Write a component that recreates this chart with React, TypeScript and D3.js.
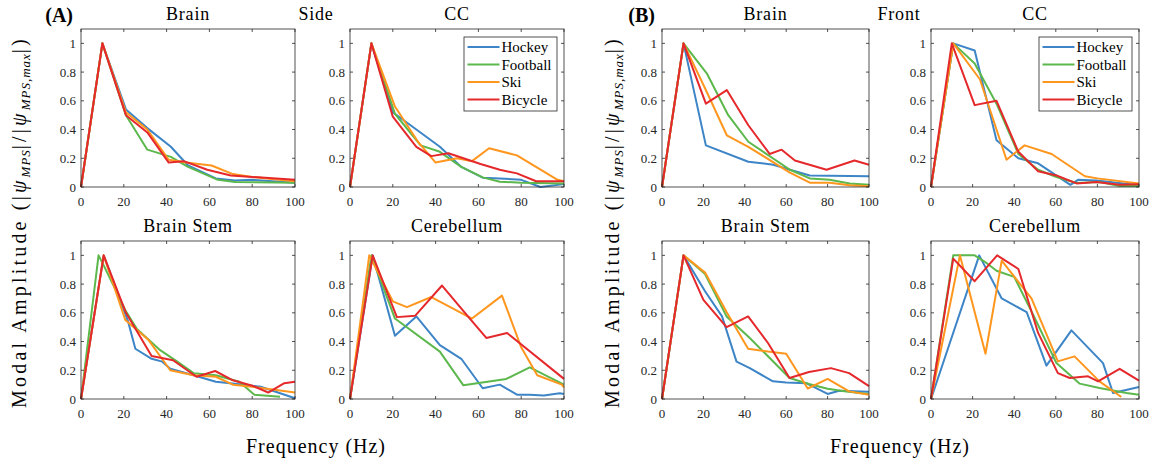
import React from 'react';
import * as d3 from 'd3';

const FONT = '"Liberation Serif", "DejaVu Serif", serif';
const INK = '#262626';

const sports = ['Hockey', 'Football', 'Ski', 'Bicycle'];
const colors = ['#3d85c6', '#5cb84c', '#ff961e', '#e5282b'];
const xTicks = [0, 20, 40, 60, 80, 100];
const yTicks = [0, 0.2, 0.4, 0.6, 0.8, 1];
const yTickLabels = ['0', '0.2', '0.4', '0.6', '0.8', '1'];

// (A) Side impacts: [frequency Hz, normalised amplitude]
const sideBrainHockey = [[0, 0], [10, 1], [21, 0.54], [31, 0.41], [42, 0.28], [50, 0.15], [63, 0.06], [72, 0.045], [80, 0.05], [100, 0.03]];
const sideBrainFootball = [[0, 0], [10, 1], [21, 0.5], [31, 0.26], [42, 0.21], [50, 0.14], [64, 0.05], [72, 0.035], [100, 0.03]];
const sideBrainSki = [[0, 0], [10, 1], [21, 0.52], [31, 0.4], [41, 0.19], [49, 0.17], [61, 0.15], [71, 0.09], [80, 0.07], [100, 0.04]];
const sideBrainBicycle = [[0, 0], [10, 1], [21, 0.5], [31, 0.38], [41, 0.17], [48, 0.18], [59, 0.12], [70, 0.08], [80, 0.07], [100, 0.05]];

const sideCCHockey = [[0, 0], [10, 1], [20, 0.52], [31, 0.4], [42, 0.28], [52, 0.14], [62, 0.065], [70, 0.06], [80, 0.05], [89, 0], [100, 0.02]];
const sideCCFootball = [[0, 0], [10, 1], [21, 0.51], [33, 0.29], [42, 0.245], [52, 0.14], [62, 0.067], [70, 0.037], [80, 0.03], [100, 0.025]];
const sideCCSki = [[0, 0], [10, 1], [21, 0.56], [32, 0.31], [40, 0.17], [50, 0.2], [57, 0.18], [65, 0.27], [78, 0.22], [97, 0.05], [100, 0.04]];
const sideCCBicycle = [[0, 0], [10, 1], [20, 0.49], [31, 0.28], [38, 0.215], [46, 0.235], [53, 0.2], [61, 0.16], [70, 0.12], [78, 0.095], [87, 0.04], [100, 0.04]];

const sideStemHockey = [[0, 0], [10.6, 1], [22, 0.54], [25.4, 0.35], [33, 0.28], [38, 0.26], [41.7, 0.21], [52.6, 0.165], [63, 0.12], [73, 0.105], [84, 0.085], [100, 0.005]];
const sideStemFootball = [[0, 0], [8.2, 1], [10.6, 0.93], [21, 0.61], [26, 0.49], [37, 0.34], [45, 0.26], [52.6, 0.18], [63, 0.165], [74, 0.12], [81, 0.03], [93, 0.015]];
const sideStemSki = [[0, 0], [10.6, 1], [20.7, 0.55], [31.6, 0.41], [41.7, 0.2], [52.6, 0.165], [63, 0.155], [71, 0.1], [80, 0.085], [100, 0.045]];
const sideStemBicycle = [[0, 0], [10.6, 1], [21, 0.6], [33, 0.3], [43, 0.27], [54, 0.155], [62.7, 0.195], [71, 0.13], [80.5, 0.09], [87.5, 0.045], [95, 0.11], [100, 0.12]];

const sideCereHockey = [[0, 0], [10.6, 1], [21, 0.44], [31, 0.575], [42, 0.375], [52, 0.28], [62, 0.075], [70, 0.1], [78, 0.03], [84, 0.03], [90.6, 0.025], [98, 0.04], [100, 0.035]];
const sideCereFootball = [[0, 0], [10, 1], [21, 0.56], [42, 0.33], [53, 0.095], [73, 0.14], [84, 0.22], [100, 0.1]];
const sideCereSki = [[0, 0], [9, 1], [20, 0.68], [26.6, 0.64], [38, 0.71], [57, 0.56], [71, 0.72], [80, 0.36], [87.5, 0.165], [99, 0.1], [100, 0.08]];
const sideCereBicycle = [[0, 0], [10.6, 1], [21.9, 0.57], [30.5, 0.58], [43, 0.79], [56, 0.56], [63.7, 0.425], [73.4, 0.46], [100, 0.14]];

// (B) Front impacts
const frontBrainHockey = [[0, 0], [10.4, 1], [21.2, 0.29], [41.7, 0.176], [53.8, 0.155], [61.8, 0.12], [71.4, 0.08], [100, 0.075]];
const frontBrainFootball = [[0, 0], [10.4, 1], [21.7, 0.79], [32, 0.5], [41.7, 0.315], [61.8, 0.12], [71.4, 0.06], [81, 0.05], [90.7, 0.025], [100, 0.015]];
const frontBrainSki = [[0, 0], [10.4, 1], [21.7, 0.66], [31.3, 0.36], [41.7, 0.28], [61.8, 0.1], [71.4, 0.03], [81, 0.03], [90.7, 0.012], [100, 0.005]];
const frontBrainBicycle = [[0, 0], [10.4, 1], [21.2, 0.58], [31.3, 0.675], [41.7, 0.43], [52, 0.23], [57.8, 0.26], [64.2, 0.185], [79.5, 0.12], [93, 0.185], [100, 0.155]];

const frontCCHockey = [[0, 0], [10.7, 1], [21, 0.95], [31.5, 0.325], [42, 0.2], [51.5, 0.165], [67, 0.015], [70.7, 0.05], [79.5, 0.045], [100, 0.012]];
const frontCCFootball = [[0, 0], [10.7, 1], [21, 0.86], [31.5, 0.58], [42, 0.23], [51.5, 0.12], [60.3, 0.07], [70, 0.028], [81, 0.035], [90.7, 0.007], [100, 0.007]];
const frontCCSki = [[0, 0], [10.7, 1], [23.5, 0.75], [36.3, 0.19], [45, 0.29], [58, 0.23], [74, 0.075], [80, 0.06], [100, 0.025]];
const frontCCBicycle = [[0, 0], [10, 1], [21, 0.57], [31.5, 0.6], [42, 0.245], [51.5, 0.11], [60.3, 0.08], [70, 0.025], [79.5, 0.035], [90.7, 0.015], [100, 0.02]];

const frontStemHockey = [[0, 0], [10.4, 1], [20.8, 0.75], [29, 0.575], [36, 0.26], [42.4, 0.215], [53.6, 0.123], [60, 0.115], [69.6, 0.11], [80, 0.035], [85.6, 0.058], [100, 0.05]];
const frontStemFootball = [[0, 0], [10.4, 1], [20.8, 0.87], [31.2, 0.575], [42.4, 0.425], [61.6, 0.146], [71, 0.105], [80, 0.072], [89, 0.053], [100, 0.035]];
const frontStemSki = [[0, 0], [10.4, 1], [20.8, 0.88], [31.2, 0.605], [41.6, 0.35], [51.2, 0.33], [60, 0.315], [70.4, 0.073], [80, 0.14], [90.4, 0.053], [100, 0.03]];
const frontStemBicycle = [[0, 0], [10.4, 1], [20, 0.69], [31.2, 0.5], [41.6, 0.575], [51.2, 0.39], [61.6, 0.146], [71, 0.188], [81.6, 0.215], [90.4, 0.18], [100, 0.09]];

const frontCereHockey = [[0, 0], [23.2, 1], [34, 0.7], [46, 0.605], [55.5, 0.232], [67.5, 0.478], [82.7, 0.25], [87.5, 0.042], [100, 0.083]];
const frontCereFootball = [[0, 0], [10.7, 1], [21, 1], [25.9, 0.955], [31.5, 0.893], [40, 0.85], [49, 0.59], [60.3, 0.25], [71.5, 0.107], [81, 0.077], [94, 0.042], [100, 0.03]];
const frontCereSki = [[0, 0], [13.9, 1], [26.2, 0.315], [34, 0.963], [48.3, 0.7], [61, 0.262], [69, 0.297], [81, 0.123], [91.5, 0.014]];
const frontCereBicycle = [[0, 0], [10.7, 0.977], [21, 0.82], [31.8, 1], [42, 0.905], [51.5, 0.46], [61, 0.18], [66.7, 0.146], [75.5, 0.158], [80.3, 0.123], [90.7, 0.21], [100, 0.128]];

const panels = [
  { title: 'Brain', x0: 81, x1: 295, y0: 29, y1: 187, series: [sideBrainHockey, sideBrainFootball, sideBrainSki, sideBrainBicycle] },
  { title: 'CC', x0: 350, x1: 564, y0: 29, y1: 187, legend: true, series: [sideCCHockey, sideCCFootball, sideCCSki, sideCCBicycle] },
  { title: 'Brain Stem', x0: 81, x1: 295, y0: 241, y1: 399, series: [sideStemHockey, sideStemFootball, sideStemSki, sideStemBicycle] },
  { title: 'Cerebellum', x0: 350, x1: 564, y0: 241, y1: 399, series: [sideCereHockey, sideCereFootball, sideCereSki, sideCereBicycle] },
  { title: 'Brain', x0: 662, x1: 869, y0: 29, y1: 187, series: [frontBrainHockey, frontBrainFootball, frontBrainSki, frontBrainBicycle] },
  { title: 'CC', x0: 931, x1: 1139, y0: 29, y1: 187, legend: true, series: [frontCCHockey, frontCCFootball, frontCCSki, frontCCBicycle] },
  { title: 'Brain Stem', x0: 662, x1: 869, y0: 241, y1: 399, series: [frontStemHockey, frontStemFootball, frontStemSki, frontStemBicycle] },
  { title: 'Cerebellum', x0: 931, x1: 1139, y0: 241, y1: 399, series: [frontCereHockey, frontCereFootball, frontCereSki, frontCereBicycle] },
];

const txt = { fontFamily: FONT };

function Panel({ p }: { p: any }) {
  const x = d3.scaleLinear().domain([0, 100]).range([p.x0, p.x1]);
  const y = d3.scaleLinear().domain([0, 1.1]).range([p.y1, p.y0]);
  const line = d3.line<number[]>().x(d => x(d[0])).y(d => y(d[1]));
  const tl = 3;
  const lx = p.x1 - 100;
  const ly = p.y0 + 8;
  return (
    <g>
      <text x={(p.x0 + p.x1) / 2} y={p.y0 - 9.5} textAnchor="middle" fontSize={18} letterSpacing={0.8} fill="#000" style={txt}>{p.title}</text>
      {p.series.map((s: number[][], i: number) => (
        <path key={i} d={line(s) || ''} fill="none" stroke={colors[i]} strokeWidth={2} strokeLinejoin="round" />
      ))}
      <rect x={p.x0} y={p.y0} width={p.x1 - p.x0} height={p.y1 - p.y0} fill="none" stroke={INK} strokeWidth={0.8} />
      {xTicks.map(t => (
        <g key={'x' + t}>
          <line x1={x(t)} x2={x(t)} y1={p.y1} y2={p.y1 - tl} stroke={INK} strokeWidth={0.8} />
          <line x1={x(t)} x2={x(t)} y1={p.y0} y2={p.y0 + tl} stroke={INK} strokeWidth={0.8} />
          <text x={x(t)} y={p.y1 + 19} textAnchor="middle" fontSize={13} fill={INK} style={txt}>{t}</text>
        </g>
      ))}
      {yTicks.map((t, i) => (
        <g key={'y' + t}>
          <line x1={p.x0} x2={p.x0 + tl} y1={y(t)} y2={y(t)} stroke={INK} strokeWidth={0.8} />
          <line x1={p.x1} x2={p.x1 - tl} y1={y(t)} y2={y(t)} stroke={INK} strokeWidth={0.8} />
          <text x={p.x0 - 5} y={y(t) + 4.5} textAnchor="end" fontSize={13} fill={INK} style={txt}>{yTickLabels[i]}</text>
        </g>
      ))}
      {p.legend && (
        <g>
          <rect x={lx} y={ly} width={93} height={74} fill="#fff" stroke={INK} strokeWidth={0.8} />
          {sports.map((s, i) => (
            <g key={s}>
              <line x1={lx + 3.5} x2={lx + 35.5} y1={ly + 10 + i * 17.5} y2={ly + 10 + i * 17.5} stroke={colors[i]} strokeWidth={2} />
              <text x={lx + 37.5} y={ly + 15 + i * 17.5} fontSize={15} fill="#000" style={txt}>{s}</text>
            </g>
          ))}
        </g>
      )}
    </g>
  );
}

function YLabel({ x }: { x: number }) {
  return (
    <text transform={`translate(${x},408) rotate(-90)`} fontSize={20} letterSpacing={3.2} fill="#000" style={txt}>
      Modal Amplitude (|<tspan fontStyle="italic">ψ</tspan>
      <tspan fontSize={13} fontStyle="italic" dy={4} letterSpacing={1}>MPS</tspan>
      <tspan dy={-4}>|/|</tspan>
      <tspan fontStyle="italic">ψ</tspan>
      <tspan fontSize={13} fontStyle="italic" dy={4} letterSpacing={1}>MPS</tspan>
      <tspan fontSize={13} letterSpacing={1}>,</tspan>
      <tspan fontSize={13} fontStyle="italic" letterSpacing={1}>max</tspan>
      <tspan dy={-4}>|)</tspan>
    </text>
  );
}

export default function App() {
  return (
    <svg width={1163} height={464} style={{ position: 'absolute', left: 0, top: 0, background: '#fff' }}>
      <rect width={1163} height={464} fill="#fff" />
      {panels.map((p, i) => <Panel key={i} p={p} />)}
      <text x={73} y={22} textAnchor="end" fontSize={20} fontWeight="bold" style={txt}>(A)</text>
      <text x={655} y={22} textAnchor="end" fontSize={20} fontWeight="bold" style={txt}>(B)</text>
      <text x={316} y={19.5} textAnchor="middle" fontSize={18} letterSpacing={0.8} style={txt}>Side</text>
      <text x={899} y={19.5} textAnchor="middle" fontSize={18} letterSpacing={0.8} style={txt}>Front</text>
      <text x={316} y={453} textAnchor="middle" fontSize={20} letterSpacing={1} style={txt}>Frequency (Hz)</text>
      <text x={900} y={453} textAnchor="middle" fontSize={20} letterSpacing={1} style={txt}>Frequency (Hz)</text>
      <YLabel x={26} />
      <YLabel x={619} />
    </svg>
  );
}
